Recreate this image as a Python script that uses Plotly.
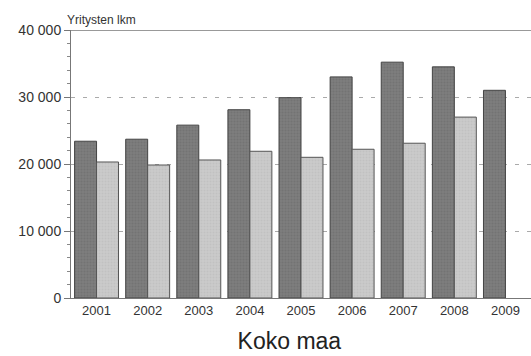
import plotly.graph_objects as go

vuodet = ["2001", "2002", "2003", "2004", "2005", "2006", "2007", "2008", "2009"]
sarja_a = [23400, 23700, 25800, 28100, 29900, 33000, 35200, 34500, 31000]
sarja_b = [20300, 19850, 20600, 21900, 21000, 22200, 23100, 27000, None]

fig = go.Figure()
fig.add_trace(go.Bar(x=vuodet, y=sarja_a, marker=dict(color="#7d7d7d", line=dict(color="#444", width=1),
                     pattern=dict(shape=".", fgcolor="#6a6a6a", size=3, solidity=0.4))))
fig.add_trace(go.Bar(x=vuodet, y=sarja_b, marker=dict(color="#cbcbcb", line=dict(color="#555", width=1),
                     pattern=dict(shape=".", fgcolor="#b8b8b8", size=3, solidity=0.4))))

fig.update_layout(
    width=531, height=356, barmode="group", bargap=0.14, bargroupgap=0,
    showlegend=False, plot_bgcolor="white", paper_bgcolor="white",
    margin=dict(l=71, r=0, t=30, b=58),
    separators=", ",
    font=dict(family="Liberation Sans, Arial", color="#333"),
    title=dict(text="Koko maa", x=0.545, xanchor="center", y=0.02, yanchor="bottom",
               font=dict(size=23, color="#222")),
)
fig.update_yaxes(range=[0, 40000], tickvals=[0, 10000, 20000, 30000, 40000], tickformat=",d",
                 showgrid=True, gridcolor="#aaa", griddash="4px,8px", gridwidth=1,
                 showline=True, linecolor="#777", ticks="outside", ticklen=6, tickcolor="#777",
                 minor=dict(dtick=2000, ticks="outside", ticklen=3, tickcolor="#888", showgrid=False),
                 tickfont=dict(size=14), zeroline=False, mirror=False)
fig.update_xaxes(showline=True, linecolor="#777", ticks="", tickfont=dict(size=13))
fig.add_shape(type="line", xref="paper", yref="y", x0=0, x1=1, y0=40000, y1=40000,
              line=dict(color="#777", width=1.5))
fig.add_annotation(text="Yritysten lkm", xref="paper", yref="paper", x=-0.012, y=1.0,
                   xanchor="left", yanchor="bottom", showarrow=False, yshift=1,
                   font=dict(size=12, color="#333"))

fig.write_html("out.html", config={"displayModeBar": False},
               post_script="document.body.style.margin='0';")
